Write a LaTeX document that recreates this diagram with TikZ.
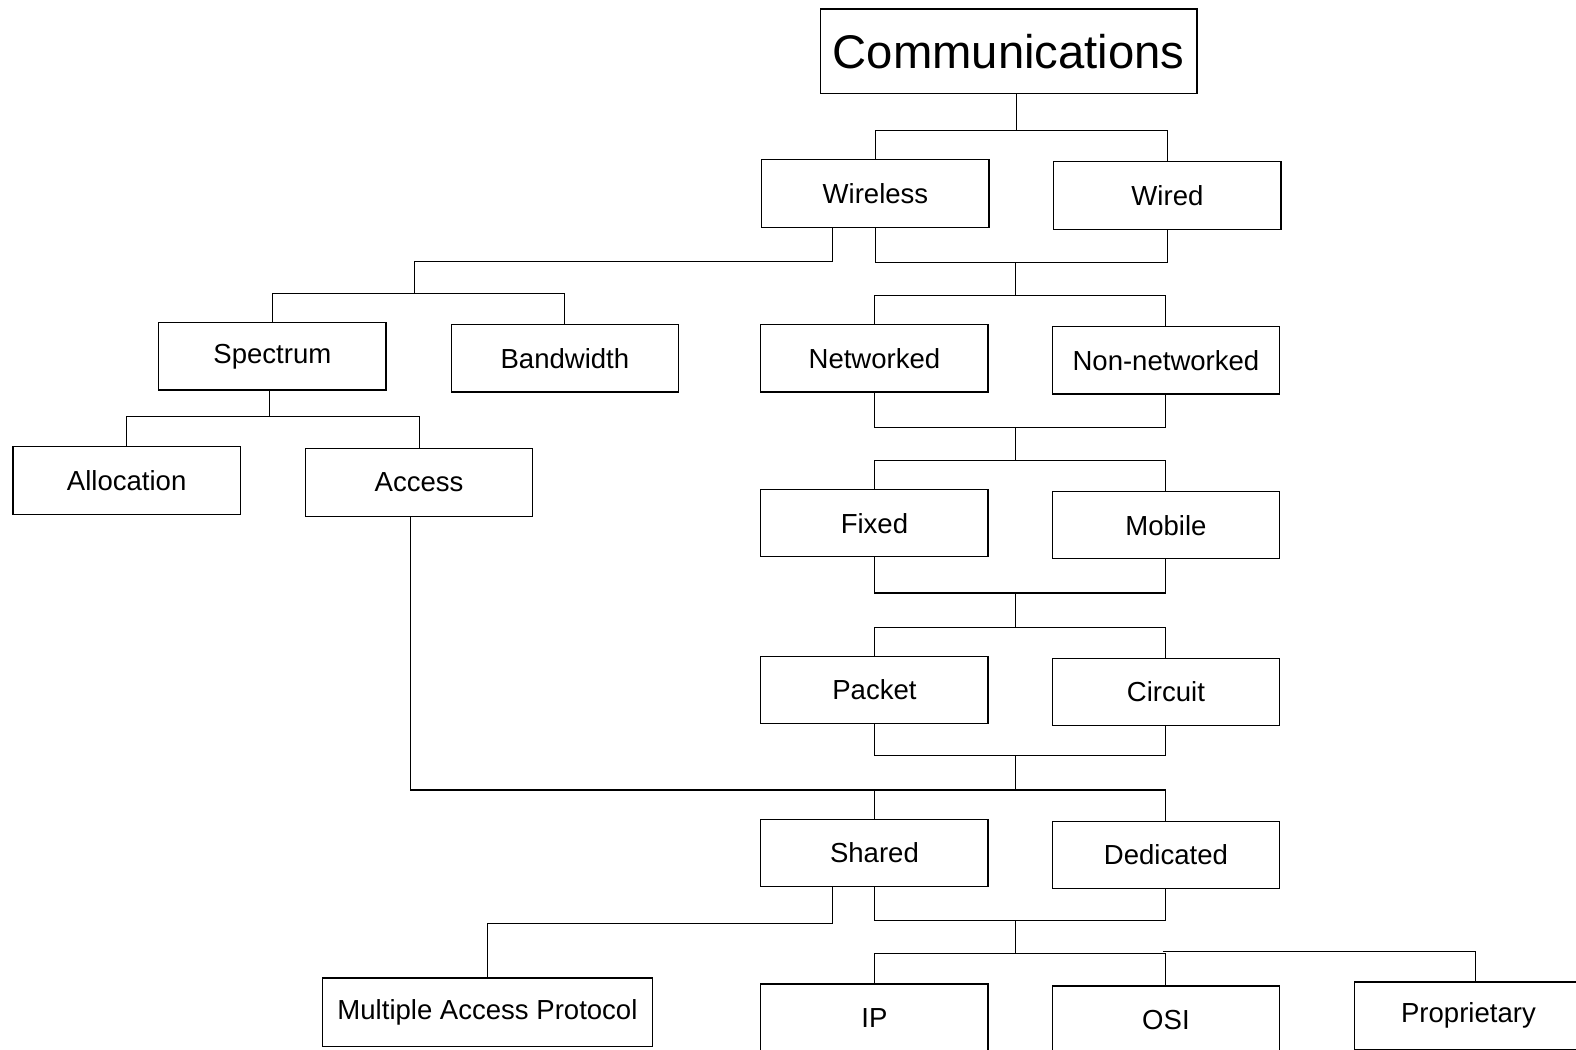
\documentclass[tikz,border=0pt]{standalone}
\usepackage{fontspec}
\setmainfont{Liberation Sans}
\begin{document}
\begin{tikzpicture}[x=0.5pt,y=-0.5pt,
  box/.style={draw, line width=0.6pt, minimum width=113pt, minimum height=33.5pt,
    inner sep=0pt, font=\fontsize{13.7}{16}\selectfont},
  link/.style={line width=0.55pt}]
\useasboundingbox (0,0) rectangle (1568,1044);
\clip (0,0) rectangle (1568,1044);

% boxes
\node[box, minimum width=187.5pt, minimum height=42pt, font=\fontsize{23.5}{28}\selectfont]
  (comm) at (1003.5,51) {Communications};
\node[box] (wireless) at (871,192.5) {Wireless};
\node[box] (wired) at (1161.5,194.5) {Wired};
\node[box] (spectrum) at (271,354.5) {Spectrum};
\node[box] (bandwidth) at (562,356.5) {Bandwidth};
\node[box] (networked) at (870,356.5) {Networked};
\node[box] (nonnet) at (1160,358.5) {Non-networked};
\node[box] (allocation) at (126,478) {Allocation};
\node[box] (access) at (417,480) {Access};
\node[box] (fixed) at (870,520.5) {Fixed};
\node[box] (mobile) at (1160,522.5) {Mobile};
\node[box] (packet) at (870,686.5) {Packet};
\node[box] (circuit) at (1160,688.5) {Circuit};
\node[box] (shared) at (870,848.5) {Shared};
\node[box] (dedicated) at (1160,850.5) {Dedicated};
\node[box, minimum width=164pt, minimum height=34pt] (map) at (485,1007) {Multiple Access Protocol};
\node[box] (ip) at (870,1012.5) {IP};
\node[box] (osi) at (1160,1014.5) {OSI};
\node[box] (proprietary) at (1461,1010.5) {Proprietary};

% junction points of the buses
\coordinate (j1) at (1011,130);
\coordinate (wl) at (412,260);
\coordinate (wlb) at (412,292);
\coordinate (m1) at (1010,261);
\coordinate (m1b) at (1010,294);
\coordinate (s1) at (268,414);
\coordinate (m2) at (1010,425);
\coordinate (m2b) at (1010,458);
\coordinate (m3) at (1010,590);
\coordinate (m3b) at (1010,624);
\coordinate (m4) at (1010,752);
\coordinate (m4b) at (1010,786);
\coordinate (sh) at (481,919);
\coordinate (m5) at (1010,916);
\coordinate (m5b) at (1010,949);
\coordinate (pjy) at (0,947);

\begin{scope}[link]
% Communications -> Wireless / Wired
\draw (j1 |- comm.south) -- (j1);
\draw (wireless.north) |- (j1) -| (wired.north);
% Wireless -> Spectrum / Bandwidth
\draw ([xshift=-21.5pt]wireless.south) |- (wl) -- (wlb);
\draw (spectrum.north) |- (wlb) -| (bandwidth.north);
% Spectrum -> Allocation / Access
\draw (s1 |- spectrum.south) -- (s1);
\draw (allocation.north) |- (s1) -| (access.north);
% Wireless / Wired -> Networked / Non-networked
\draw (wireless.south) |- (m1) -| (wired.south);
\draw (m1) -- (m1b);
\draw (networked.north) |- (m1b) -| (nonnet.north);
% Networked / Non-networked -> Fixed / Mobile
\draw (networked.south) |- (m2) -| (nonnet.south);
\draw (m2) -- (m2b);
\draw (fixed.north) |- (m2b) -| (mobile.north);
% Fixed / Mobile -> Packet / Circuit
\draw (fixed.south) |- (m3) -| (mobile.south);
\draw (m3) -- (m3b);
\draw (packet.north) |- (m3b) -| (circuit.north);
% Packet / Circuit and Access -> Shared / Dedicated
\draw (packet.south) |- (m4) -| (circuit.south);
\draw (m4) -- (m4b);
\draw ([xshift=-4.5pt]access.south) |- (m4b);
\draw (shared.north) |- (m4b) -| (dedicated.north);
% Shared -> Multiple Access Protocol
\draw ([xshift=-21pt]shared.south) |- (map.north |- sh) -- (map.north);
% Shared / Dedicated -> IP / OSI / Proprietary
\draw (shared.south) |- (m5) -| (dedicated.south);
\draw (m5) -- (m5b);
\draw (ip.north) |- (m5b) -| (osi.north);
\draw ([xshift=-1.5pt]osi.north |- pjy) -| ([xshift=3.5pt]proprietary.north);
\end{scope}
\end{tikzpicture}
\end{document}
